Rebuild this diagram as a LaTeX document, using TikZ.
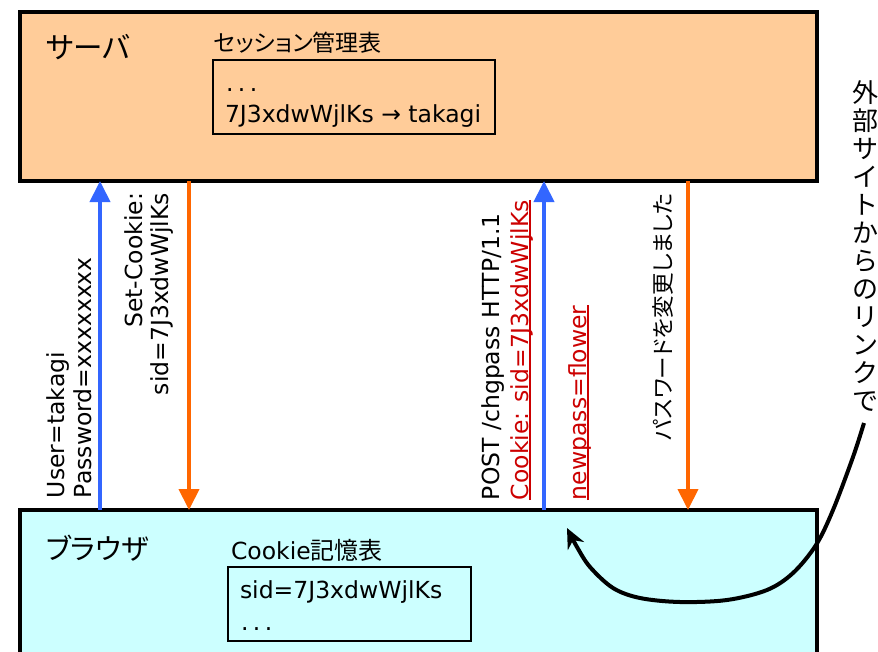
\documentclass[tikz,border=0pt]{standalone}
\usepackage{fontspec}
\usetikzlibrary{arrows.meta}
\setmainfont{DejaVu Sans}
\newfontfamily\jp{Noto Sans CJK JP}
\newfontfamily\jpp[RawFeature=+palt]{Noto Sans CJK JP}
\definecolor{servfill}{HTML}{FFCC99}
\definecolor{brfill}{HTML}{CCFFFF}
\definecolor{reqblue}{HTML}{3366FF}
\definecolor{resorange}{HTML}{FF6600}
\definecolor{redtxt}{HTML}{CC0000}
\newcommand\redul[1]{\setbox0\hbox{#1}\rlap{\color{redtxt}\rule[-2.5pt]{\wd0}{1.6pt}}\box0}
\newcommand\dotsx{.\hspace{4.5pt}.\hspace{4.5pt}.}
\tikzset{
  bigbox/.style={draw, line width=4pt, inner sep=0pt, outer sep=0pt, anchor=north west},
  tbl/.style={draw, line width=2pt, inner sep=0pt, outer sep=0pt, anchor=north west},
  txt/.style={inner sep=0pt, outer sep=0pt, font=\fontsize{23.5}{27}\selectfont},
  jtitle/.style={inner sep=0pt, outer sep=0pt, font=\jpp\fontsize{29.5}{33}\selectfont},
  vlab/.style={txt, rotate=90},
  req/.style={draw=reqblue, line width=4pt, -{Triangle[length=21pt,width=20pt]}},
  res/.style={draw=resorange, line width=4pt, -{Triangle[length=21pt,width=20pt]}},
  link/.style={draw=black, line width=4pt, -{Stealth[length=20pt,width=18pt]}},
}
\begin{document}
\begin{tikzpicture}[x=1pt,y=-1pt]
\useasboundingbox (0,0) rectangle (878,651);
\clip (0,0) rectangle (878,651);

% main boxes
\node[bigbox, fill=servfill, minimum width=797pt, minimum height=169pt] (server) at (20,12) {};
\node[bigbox, fill=brfill, minimum width=797pt, minimum height=170pt] (browser) at (20,510) {};

% server contents
\node[jtitle, anchor=west] (srvname) at (46,47) {サーバ};
\node[txt, anchor=west, font=\jpp\fontsize{23}{27}\selectfont] (sesstitle) at (214,43) {セッション管理表};
\node[tbl, minimum width=282pt, minimum height=74pt] (sesstbl) at (213,60) {};
\node[txt, anchor=base west] (sessdots) at (226,91) {\dotsx};
\node[txt, anchor=base west] (sessmap) at (225,122) {7J3xdwWjlKs → takagi};

% browser contents
\node[jtitle, anchor=west, font=\jpp\fontsize{28.5}{33}\selectfont] (brname) at (46,548) {ブラウザ};
\node[txt, anchor=west] (cktitle) at (231,550) {Cookie{\jpp\fontsize{24}{28}\selectfont 記憶表}};
\node[tbl, minimum width=243pt, minimum height=74pt] (cktbl) at (228,567) {};
\node[txt, anchor=base west] (cksid) at (240,598) {sid=7J3xdwWjlKs};
\node[txt, anchor=base west] (ckdots) at (241,630) {\dotsx};

% arrow columns
\coordinate (c1) at (100,0);
\coordinate (c2) at (189,0);
\coordinate (c3) at (544,0);
\coordinate (c4) at (688,0);
\draw[req] (c1 |- browser.north) -- (c1 |- server.south);
\draw[res] (c2 |- server.south) -- (c2 |- browser.north);
\draw[req] (c3 |- browser.north) -- (c3 |- server.south);
\draw[res] (c4 |- server.south) -- (c4 |- browser.north);

% rotated labels
\node[vlab, anchor=base west] (lu) at (64,498) {User=takagi};
\node[vlab, anchor=base west] (lp) at (91,498) {Password=xxxxxxxx};
\node[vlab, anchor=base east] (ls1) at (142,193) {Set-Cookie:};
\node[vlab, anchor=base east] (ls2) at (168,193) {sid=7J3xdwWjlKs};
\node[vlab, anchor=base west] (lpost) at (499,500) {POST /chgpass HTTP/1.1};
\node[vlab, anchor=base west, text=redtxt] (lck) at (528,500) {\redul{Cookie: sid=7J3xdwWjlKs}};
\node[vlab, anchor=base west, text=redtxt] (lnp) at (586,500) {\redul{newpass=flower}};
\node[vlab, anchor=east, font=\jpp\fontsize{22.5}{26}\selectfont] (lchg) at (663,193) {パスワードを変更しました};

% external link
\node[inner sep=0pt, outer sep=0pt, align=center, font=\jp\fontsize{26}{28}\selectfont] (ext) at (865,246) {外\\部\\サ\\イ\\ト\\か\\ら\\の\\リ\\ン\\ク\\で};
\coordinate (cstart) at (864,423);
\coordinate (ctip) at (567,528);
\draw[link] plot[smooth, tension=0.55] coordinates {(cstart) (853,457) (833,510) (816,545) (793,573) (767,590) (727,600) (680,602) (640,598) (613,588) (590,567) (577,547) (ctip)};
\end{tikzpicture}
\end{document}
